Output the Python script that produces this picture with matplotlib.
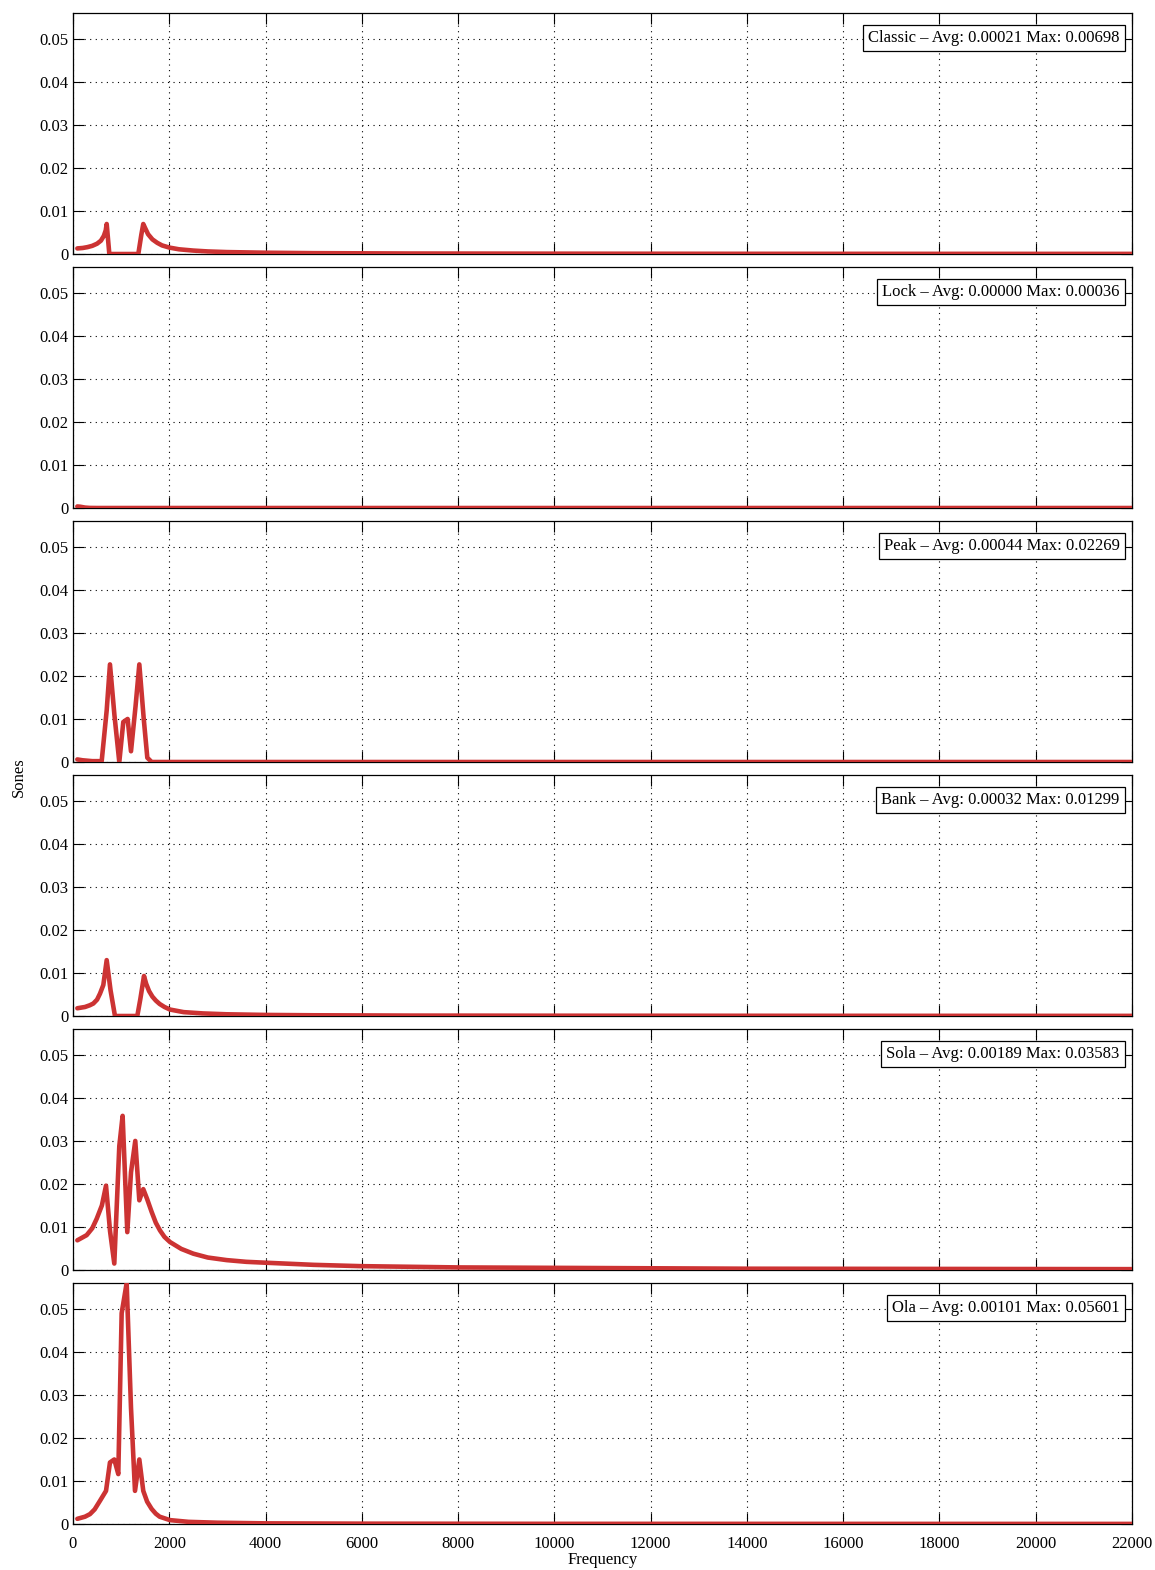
import numpy as np
import matplotlib.pyplot as plt

plt.rcParams['font.family'] = ['Liberation Serif', 'DejaVu Serif']

# --- data (frequency in Hz, loudness in sones) ---
classic_f = [90, 200, 300, 400, 500, 580, 640, 680, 700, 755, 1357, 1420, 1460, 1500, 1560,
             1650, 1750, 1850, 2000, 2200, 2500, 2800, 3200, 4000, 5000, 7000, 10000, 14000, 22000]
classic_v = [0.0013, 0.0014, 0.0016, 0.0019, 0.0024, 0.0031, 0.0042, 0.0055, 0.00698, 0.0, 0.0, 0.0045,
             0.00698, 0.0060, 0.0046, 0.0034, 0.0026, 0.0020, 0.0015, 0.0011, 0.0008, 0.0006,
             0.00045, 0.0003, 0.0002, 0.00012, 0.00008, 0.00005, 0.00003]

lock_f = [90, 150, 250, 350, 500, 22000]
lock_v = [0.00036, 0.0003, 0.0001, 0.00002, 0.0, 0.0]

peak_f = [90, 200, 400, 596, 700, 768, 860, 962, 1045, 1135, 1205, 1300, 1378, 1470, 1544, 1634, 22000]
peak_v = [0.0006, 0.0004, 0.0002, 0.0002, 0.012, 0.02269, 0.011, 0.0, 0.0093, 0.0100, 0.0025,
          0.013, 0.02269, 0.010, 0.001, 0.0, 0.0]

bank_f = [90, 250, 350, 422, 500, 561, 630, 700, 780, 872, 1336, 1400, 1475, 1520, 1580,
          1650, 1720, 1800, 1900, 2015, 2300, 2700, 3192, 4000, 5000, 7000, 10000, 15000, 22000]
bank_v = [0.0018, 0.0021, 0.0025, 0.0029, 0.0038, 0.0052, 0.0072, 0.01299, 0.006, 0.0, 0.0,
          0.004, 0.0093, 0.0075, 0.0058, 0.0045, 0.0036, 0.0028, 0.0021, 0.0015, 0.0009,
          0.0006, 0.0004, 0.00025, 0.00017, 0.0001, 0.00007, 0.00005, 0.00003]

sola_f = [90, 284, 400, 492, 600, 686, 770, 858, 962, 1031, 1128, 1205, 1294, 1378, 1460,
          1540, 1634, 1720, 1807, 1900, 2015, 2250, 2499, 2800, 3192, 3600, 3988, 5000, 5961,
          8000, 10000, 14000, 18000, 22000]
sola_v = [0.0069, 0.0081, 0.0097, 0.0119, 0.015, 0.0196, 0.009, 0.0015, 0.0288, 0.03583,
          0.0088, 0.0227, 0.0300, 0.0162, 0.0188, 0.0165, 0.0135, 0.0110, 0.0092, 0.0077,
          0.0065, 0.0049, 0.0038, 0.0029, 0.0023, 0.0019, 0.0017, 0.0012, 0.0009, 0.0006,
          0.0005, 0.0003, 0.00025, 0.0002]

ola_f = [90, 250, 353, 450, 561, 686, 768, 858, 941, 1011, 1115, 1205, 1288, 1378, 1460,
         1540, 1634, 1720, 1800, 2015, 2400, 3000, 4000, 6000, 10000, 22000]
ola_v = [0.0012, 0.0017, 0.0023, 0.0034, 0.0054, 0.0077, 0.0143, 0.0150, 0.0116, 0.0490,
         0.05601, 0.0270, 0.0077, 0.0150, 0.0077, 0.0052, 0.0035, 0.0024, 0.0017, 0.0009,
         0.0005, 0.0003, 0.00015, 0.00008, 0.00004, 0.00002]

names = ['Classic', 'Lock', 'Peak', 'Bank', 'Sola', 'Ola']
avgs = [0.00021, 0.00000, 0.00044, 0.00032, 0.00189, 0.00101]
maxs = [0.00698, 0.00036, 0.02269, 0.01299, 0.03583, 0.05601]
series = [(classic_f, classic_v), (lock_f, lock_v), (peak_f, peak_v),
          (bank_f, bank_v), (sola_f, sola_v), (ola_f, ola_v)]

xticks = list(range(0, 22001, 2000))
yticks = [0, 0.01, 0.02, 0.03, 0.04, 0.05]
line_col = '#cc3333'

fig, axes = plt.subplots(6, 1, figsize=(11.55, 15.7), dpi=100, sharex=True)
fig.subplots_adjust(left=0.0632, right=0.980, top=0.9917, bottom=0.0293, hspace=0.054)

for ax, name, a, m, (f, v) in zip(axes, names, avgs, maxs, series):
    ax.plot(f, v, color=line_col, lw=3.3, solid_joinstyle='round', solid_capstyle='round', zorder=3)
    ax.set_xlim(0, 22000)
    ax.set_ylim(0, 0.05601)
    ax.set_xticks(xticks)
    ax.set_yticks(yticks)
    ax.set_yticklabels(['0', '0.01', '0.02', '0.03', '0.04', '0.05'])
    ax.grid(True, color='black', linestyle=(0, (1, 4)), linewidth=0.8)
    ax.tick_params(direction='in', length=8, top=True, right=True, labelsize=12)
    ax.tick_params(axis='x', pad=9)
    for s in ax.spines.values():
        s.set_linewidth(0.9)
    ax.text(0.9885, 0.896, f'{name} \u2013 Avg: {a:.5f} Max: {m:.5f}', transform=ax.transAxes,
            ha='right', va='center', fontsize=12, zorder=5,
            bbox=dict(boxstyle='square,pad=0.3', fc='white', ec='black', lw=0.9))

axes[-1].set_xticklabels([str(t) for t in xticks])
axes[-1].set_xlabel('Frequency', fontsize=12, labelpad=0)
fig.text(0.016, 0.505, 'Sones', rotation=90, ha='center', va='center', fontsize=12)

fig.savefig('out.png', dpi=100)
